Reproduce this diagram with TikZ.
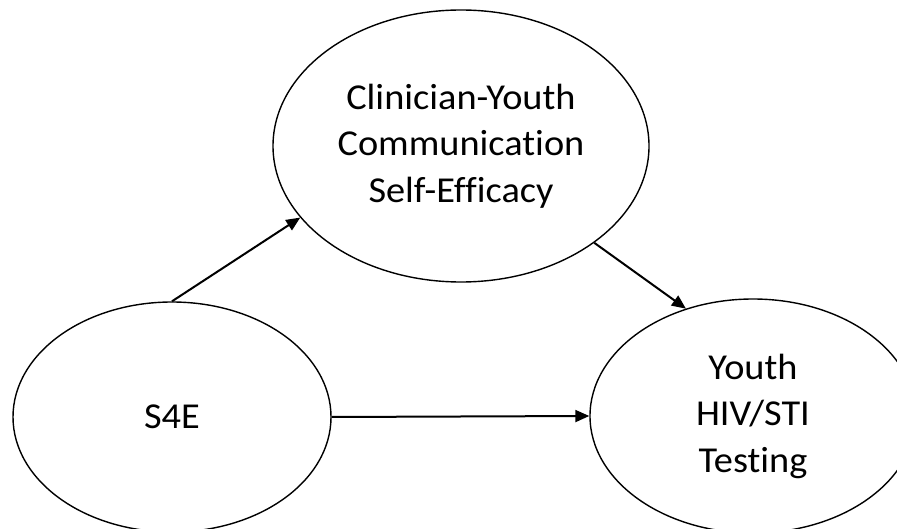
\documentclass[tikz,border=0pt]{standalone}
\usepackage{fontspec}
\setmainfont[FakeStretch=1.05,Ligatures=NoCommon]{Carlito}
\usetikzlibrary{shapes.geometric,arrows.meta}
\begin{document}
\begin{tikzpicture}[x=1pt,y=-1pt,
  oval/.style={ellipse,draw=black,line width=1.4pt,inner sep=0pt,align=center,
    font=\fontsize{36.5}{46.5}\selectfont},
  conn/.style={line width=2pt,-{Triangle[length=14pt,width=12pt]}}]
\useasboundingbox (0,0) rectangle (897,529);
\node[oval,minimum width=376pt,minimum height=272pt] (med) at (461,146) {Clinician-Youth\\Communication\\Self-Efficacy};
\node[oval,minimum width=318pt,minimum height=230pt] (s4e) at (172,417) {S4E};
\node[oval,minimum width=326pt,minimum height=234pt] (out) at (753,416) {Youth\\HIV/STI\\Testing};
\draw[conn] (s4e.north) -- (med.204.8);
\draw[conn] (med.324.4) -- (out.122.4);
\draw[conn] (s4e.east) -- (out.west);
\end{tikzpicture}
\end{document}
